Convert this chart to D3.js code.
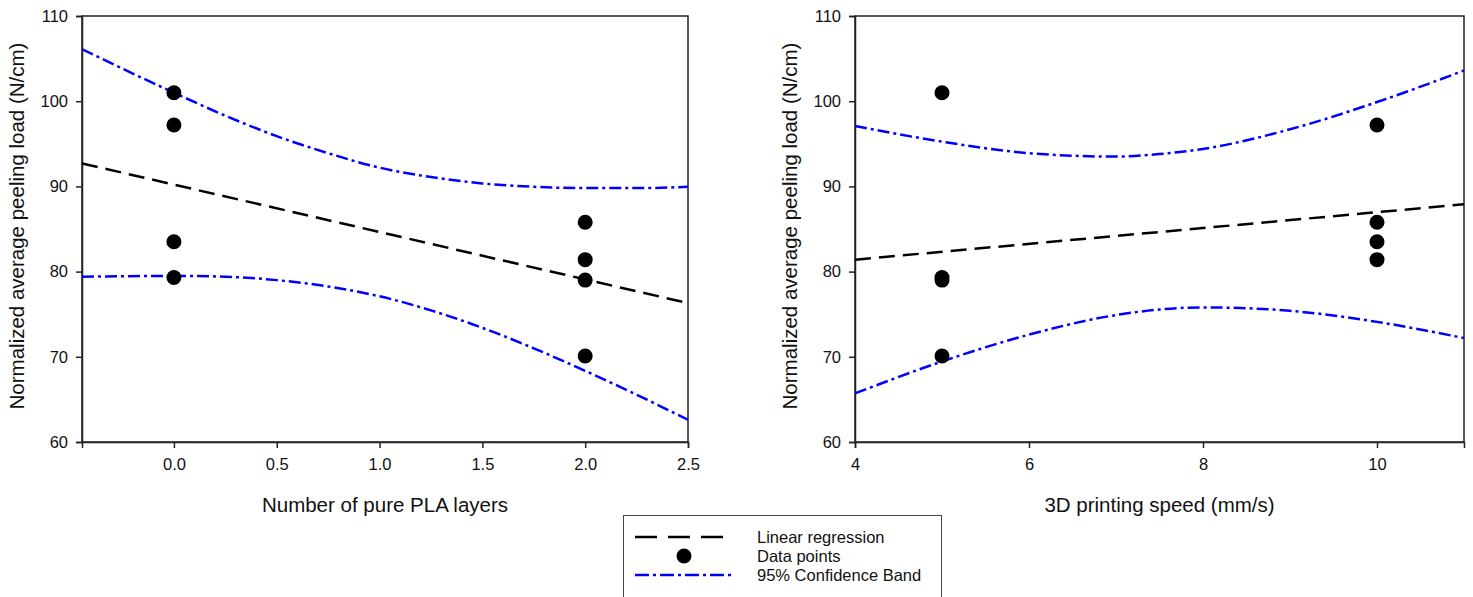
<!DOCTYPE html>
<html>
<head>
<meta charset="utf-8">
<script src="https://cdn.jsdelivr.net/npm/d3@7"></script>
<style>
  body { margin: 0; background: #fff; }
  text { font-family: "Liberation Sans", Arial, sans-serif; }
</style>
</head>
<body>
<svg width="1473" height="597"></svg>
<script>
// left panel: number of pure PLA layers
var layersX = [0, 0, 0, 0, 2, 2, 2, 2];
var loadLayers = [101.0, 97.2, 83.5, 79.3, 85.8, 81.4, 79.0, 70.1];
var fitLayers = [[-0.447, 92.7], [2.5, 76.3]];
var bandLayersX = [-0.447, 0, 0.25, 0.5, 0.75, 1.0, 1.25, 1.5, 1.75, 2.0, 2.25, 2.5];
var bandLayersUp = [106.1, 101.0, 98.3, 95.9, 93.9, 92.2, 91.1, 90.35, 89.95, 89.8, 89.8, 89.95];
var bandLayersLo = [79.4, 79.5, 79.4, 79.0, 78.25, 77.1, 75.45, 73.4, 71.0, 68.35, 65.55, 62.6];

// right panel: printing speed
var speedX = [5, 5, 5, 5, 10, 10, 10, 10];
var loadSpeed = [101.0, 79.3, 79.0, 70.1, 97.2, 85.8, 83.5, 81.4];
var fitSpeed = [[4, 81.4], [11, 87.9]];
var bandSpeedX = [4, 5, 6, 7, 7.5, 8, 9, 10, 11];
var bandSpeedUp = [97.1, 95.25, 93.9, 93.5, 93.8, 94.4, 96.7, 99.9, 103.6];
var bandSpeedLo = [65.7, 69.45, 72.6, 74.9, 75.55, 75.8, 75.4, 74.1, 72.2];

var layerTicks = [0, 0.5, 1.0, 1.5, 2.0, 2.5];
var speedTicks = [4, 6, 8, 10];
var loadTicks = [60, 70, 80, 90, 100, 110];

var svg = d3.select('svg');
var top0 = 16, bottom0 = 442;

function drawPanel(opts) {
  var x = d3.scaleLinear().domain(opts.xDomain).range([opts.left, opts.right]);
  var y = d3.scaleLinear().domain([60, 110]).range([bottom0, top0]);
  var g = svg.append('g');

  // frame
  g.append('rect')
    .attr('x', opts.left).attr('y', top0)
    .attr('width', opts.right - opts.left).attr('height', bottom0 - top0)
    .attr('fill', 'none').attr('stroke', '#222').attr('stroke-width', 1.5);

  var ax = g.append('g')
    .attr('transform', 'translate(0,' + bottom0 + ')')
    .call(d3.axisBottom(x).tickValues(opts.xTicks).tickFormat(opts.fmt).tickSize(6).tickPadding(10));
  var ay = g.append('g')
    .attr('transform', 'translate(' + opts.left + ',0)')
    .call(d3.axisLeft(y).tickValues(loadTicks).tickSize(6).tickPadding(8));
  [ax, ay].forEach(function(a) {
    a.attr('font-size', 16.5);
    a.select('.domain').attr('stroke', '#222').attr('stroke-width', 1.5);
    a.selectAll('.tick line').attr('stroke', '#222').attr('stroke-width', 1.5);
    a.selectAll('text').attr('font-size', 16.5).attr('fill', '#111')
      .style('font-family', '"Liberation Sans", Arial, sans-serif');
  });

  var clip = 'clip' + opts.id;
  g.append('clipPath').attr('id', clip).append('rect')
    .attr('x', opts.left).attr('y', top0)
    .attr('width', opts.right - opts.left).attr('height', bottom0 - top0);
  var plot = g.append('g').attr('clip-path', 'url(#' + clip + ')');

  var band = d3.line().x(d => x(d[0])).y(d => y(d[1])).curve(d3.curveMonotoneX);
  [opts.bandUp, opts.bandLo].forEach(function(vals) {
    plot.append('path')
      .datum(opts.bandX.map((v, i) => [v, vals[i]]))
      .attr('d', band)
      .attr('fill', 'none').attr('stroke', '#0000ff').attr('stroke-width', 2.5)
      .attr('stroke-dasharray', '12,4,3,4');
  });

  plot.append('path')
    .datum(opts.fit)
    .attr('d', d3.line().x(d => x(d[0])).y(d => y(d[1])))
    .attr('fill', 'none').attr('stroke', '#000').attr('stroke-width', 2.5)
    .attr('stroke-dasharray', '16,8');

  g.selectAll('circle.pt')
    .data(opts.px.map((v, i) => [v, opts.py[i]]))
    .enter()
    .append('circle')
    .attr('class', 'pt')
    .attr('cx', d => x(d[0]))
    .attr('cy', d => y(d[1]))
    .attr('r', 7.5)
    .attr('fill', '#000');

  g.append('text')
    .attr('x', (opts.left + opts.right) / 2)
    .attr('y', 512)
    .attr('text-anchor', 'middle')
    .attr('font-size', 20.5)
    .attr('fill', '#111')
    .text(opts.xTitle);

  g.append('text')
    .attr('transform', 'translate(' + opts.yTitleX + ',' + 226 + ') rotate(-90)')
    .attr('text-anchor', 'middle')
    .attr('font-size', 20.5)
    .attr('fill', '#111')
    .text('Normalized average peeling load (N/cm)');
}

drawPanel({
  id: 'a', left: 82, right: 688, xDomain: [-0.447, 2.5],
  xTicks: layerTicks, fmt: d3.format('.1f'),
  px: layersX, py: loadLayers, fit: fitLayers,
  bandX: bandLayersX, bandUp: bandLayersUp, bandLo: bandLayersLo,
  xTitle: 'Number of pure PLA layers', yTitleX: 24
});

drawPanel({
  id: 'b', left: 855, right: 1464, xDomain: [4, 11],
  xTicks: speedTicks, fmt: d3.format('d'),
  px: speedX, py: loadSpeed, fit: fitSpeed,
  bandX: bandSpeedX, bandUp: bandSpeedUp, bandLo: bandSpeedLo,
  xTitle: '3D printing speed (mm/s)', yTitleX: 797
});

// legend
var lg = svg.append('g');
lg.append('rect')
  .attr('x', 623.5).attr('y', 515.5).attr('width', 318).attr('height', 90)
  .attr('fill', '#fff').attr('stroke', '#444').attr('stroke-width', 1);
lg.append('line')
  .attr('x1', 635).attr('x2', 723).attr('y1', 537).attr('y2', 537)
  .attr('stroke', '#000').attr('stroke-width', 2.5).attr('stroke-dasharray', '22,11');
lg.append('circle').attr('cx', 684).attr('cy', 556).attr('r', 7.5).attr('fill', '#000');
lg.append('line')
  .attr('x1', 635).attr('x2', 733).attr('y1', 575).attr('y2', 575)
  .attr('stroke', '#0000ff').attr('stroke-width', 2.5).attr('stroke-dasharray', '14,4,3,4');
var legendLabels = ['Linear regression', 'Data points', '95% Confidence Band'];
lg.selectAll('text.lab')
  .data(legendLabels)
  .enter()
  .append('text')
  .attr('x', 757)
  .attr('y', (d, i) => 543 + i * 19)
  .attr('font-size', 16.5)
  .attr('fill', '#111')
  .text(d => d);
</script>
</body>
</html>
